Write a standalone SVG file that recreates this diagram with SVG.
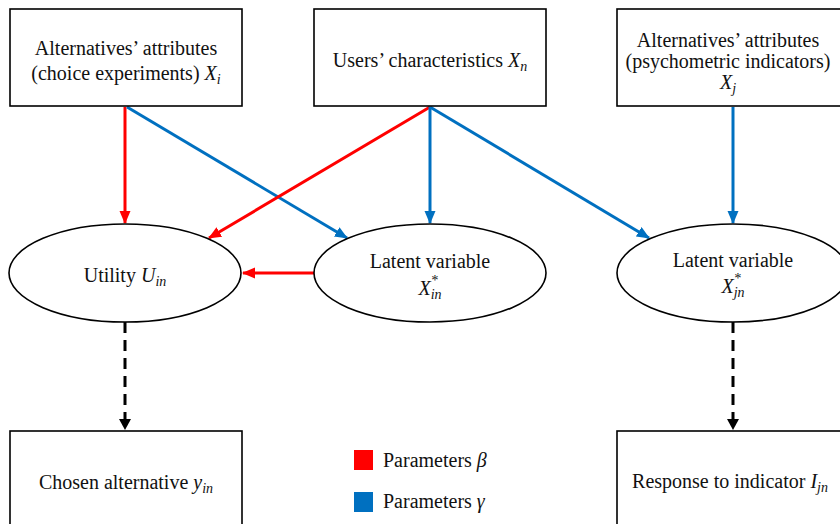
<svg xmlns="http://www.w3.org/2000/svg" width="840" height="524" viewBox="0 0 840 524">
<style>
.box{fill:#fff;stroke:#000;stroke-width:1.6}
text{font-family:'Liberation Serif','Times New Roman',Tinos,'DejaVu Serif',serif;font-size:20px;fill:#111;text-anchor:middle}
.m{font-style:italic}
.s{font-size:14px;font-style:italic}
.red{stroke:#FF0000;stroke-width:3;fill:none}
.blue{stroke:#0070C0;stroke-width:3;fill:none}
.dash{stroke:#000;stroke-width:3;fill:none;stroke-dasharray:11 7}
</style>
<defs>
<marker id="ar" markerUnits="userSpaceOnUse" markerWidth="14" markerHeight="12" refX="12" refY="5.5" orient="auto"><path d="M0,0 L13,5.5 L0,11 z" fill="#FF0000"/></marker>
<marker id="ab" markerUnits="userSpaceOnUse" markerWidth="14" markerHeight="12" refX="12" refY="5.5" orient="auto"><path d="M0,0 L13,5.5 L0,11 z" fill="#0070C0"/></marker>
</defs>
<rect width="840" height="524" fill="#fff"/>
<g id="connectors">
<line class="red" x1="125" y1="107" x2="125" y2="223" marker-end="url(#ar)"/>
<line class="blue" x1="127" y1="107" x2="347" y2="238" marker-end="url(#ab)"/>
<line class="red" x1="430" y1="107" x2="209" y2="238" marker-end="url(#ar)"/>
<line class="blue" x1="430" y1="107" x2="430" y2="223" marker-end="url(#ab)"/>
<line class="blue" x1="430" y1="107" x2="649" y2="238" marker-end="url(#ab)"/>
<line class="blue" x1="733" y1="107" x2="733" y2="223" marker-end="url(#ab)"/>
<line class="red" x1="314" y1="273" x2="243" y2="273" marker-end="url(#ar)"/>
<line class="dash" x1="125" y1="322" x2="125" y2="419"/>
<line class="dash" x1="733" y1="322" x2="733" y2="419"/>
<path d="M119,419 L131,419 L125,430 z" fill="#000"/>
<path d="M727,419 L739,419 L733,430 z" fill="#000"/>
</g>
<g id="n1">
<rect class="box" x="10" y="9" width="232" height="97"/>
<text x="126" y="55">Alternatives’ attributes</text>
<text x="126" y="80">(choice experiments) <tspan class="m">X</tspan><tspan class="s" dy="4">i</tspan></text>
</g>
<g id="n2">
<rect class="box" x="314" y="9" width="232" height="97"/>
<text x="430" y="67">Users’ characteristics <tspan class="m">X</tspan><tspan class="s" dy="4">n</tspan></text>
</g>
<g id="n3">
<rect class="box" x="617" y="9" width="232" height="97"/>
<text x="728" y="47">Alternatives’ attributes</text>
<text x="728" y="68">(psychometric indicators)</text>
<text x="728" y="89"><tspan class="m">X</tspan><tspan class="s" dy="4">j</tspan></text>
</g>
<g id="e1">
<ellipse class="box" cx="125" cy="273" rx="116" ry="49"/>
<text x="125" y="282">Utility <tspan class="m">U</tspan><tspan class="s" dy="4">in</tspan></text>
</g>
<g id="e2">
<ellipse class="box" cx="430" cy="273" rx="116" ry="49"/>
<text x="430" y="268">Latent variable</text>
<text x="430" y="295"><tspan class="m">X</tspan><tspan class="s" dy="-10">*</tspan><tspan class="s" dx="-7" dy="14">in</tspan></text>
</g>
<g id="e3">
<ellipse class="box" cx="733" cy="273" rx="116" ry="49"/>
<text x="733" y="267">Latent variable</text>
<text x="733" y="293"><tspan class="m">X</tspan><tspan class="s" dy="-10">*</tspan><tspan class="s" dx="-7" dy="14">jn</tspan></text>
</g>
<g id="n4">
<rect class="box" x="10" y="431" width="232" height="110"/>
<text x="126" y="489">Chosen alternative <tspan class="m">y</tspan><tspan class="s" dy="4">in</tspan></text>
</g>
<g id="n5">
<rect class="box" x="617" y="431" width="232" height="110"/>
<text x="730" y="488">Response to indicator <tspan class="m">I</tspan><tspan class="s" dy="4">jn</tspan></text>
</g>
<g id="legend">
<rect x="354" y="450" width="19" height="20" fill="#FF0000"/>
<text x="383" y="467" style="text-anchor:start">Parameters <tspan class="m">β</tspan></text>
<rect x="354" y="492" width="19" height="20" fill="#0070C0"/>
<text x="383" y="508" style="text-anchor:start">Parameters <tspan class="m">γ</tspan></text>
</g>
</svg>
